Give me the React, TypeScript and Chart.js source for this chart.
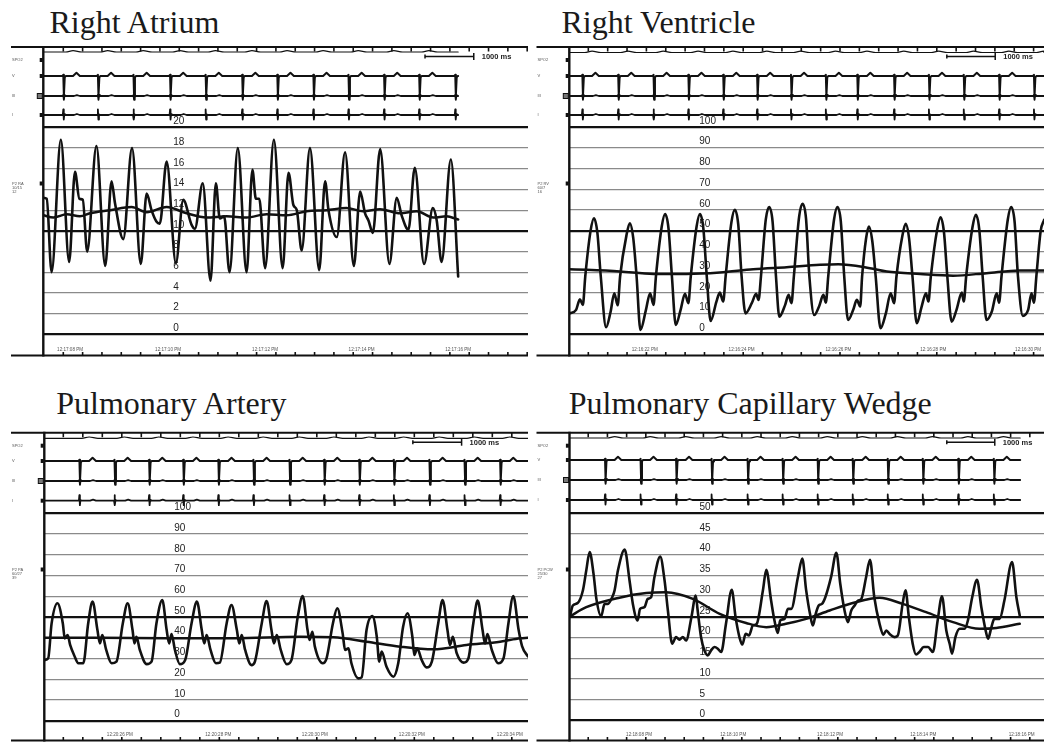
import React, { useEffect, useRef } from "react";
import { Chart, registerables } from "chart.js";

Chart.register(...registerables);
Chart.defaults.font.family = "'Liberation Sans', Arial, sans-serif";

// ================= DATA =================
// ---- Right Atrium (mmHg, time in s) ----
const raTimes = [
  0.0, 0.07, 0.17, 0.36, 0.53, 0.65, 0.74, 0.81, 0.9, 1.09,
  1.27, 1.4, 1.47, 1.64, 1.82, 2.0, 2.12, 2.22, 2.32, 2.39,
  2.53, 2.72, 2.87, 3.04, 3.11, 3.27, 3.43, 3.54, 3.62, 3.71,
  3.82, 3.99, 4.17, 4.29, 4.36, 4.43, 4.55, 4.73, 4.91, 5.03,
  5.13, 5.2, 5.3, 5.47, 5.66, 5.78, 5.85, 6.02, 6.19, 6.37,
  6.5, 6.6, 6.67, 6.76, 6.91, 7.1, 7.25, 7.35, 7.49, 7.62,
  7.81, 7.99, 8.07, 8.17, 8.36, 8.51,
];
const raValues = [
  13.2, 13.1, 6.0, 18.8, 7.0, 15.7, 13.1, 13.0, 8.0, 18.2,
  6.6, 14.8, 12.7, 9.2, 18.0, 6.8, 13.6, 12.0, 10.9, 10.7,
  16.7, 6.9, 13.0, 10.6, 10.2, 14.6, 5.2, 14.6, 11.2, 11.4,
  6.0, 18.0, 6.0, 15.9, 13.1, 13.1, 6.4, 18.8, 6.4, 15.6,
  12.5, 12.0, 8.1, 18.0, 6.2, 14.8, 12.0, 9.4, 17.6, 6.6,
  13.8, 11.7, 11.0, 9.8, 17.9, 6.8, 13.2, 11.5, 10.1, 16.1,
  6.8, 12.2, 11.0, 7.0, 16.9, 5.6,
];
const raMeanTimes = [0, 0.21, 0.48, 0.75, 0.96, 1.37, 1.81, 2.12, 2.53, 2.94, 3.35, 3.76, 4.17, 4.58, 4.99, 5.4, 5.81, 6.22, 6.56, 6.91, 7.32, 7.66, 8.0, 8.27, 8.51];
const raMeanValues = [11.5, 11.3, 11.6, 11.4, 11.7, 12.0, 12.3, 11.8, 12.3, 11.7, 11.3, 11.4, 11.3, 11.6, 11.5, 11.9, 12.0, 12.2, 11.9, 12.1, 11.7, 11.9, 11.3, 11.4, 11.1];
const raBeats = [0.41, 1.12, 1.85, 2.6, 3.33, 4.08, 4.8, 5.54, 6.26, 6.99, 7.71, 8.45];
const raTicks = [20, 18, 16, 14, 12, 10, 8, 6, 4, 2, 0];
const raTimeLabels = ["12:17:08 PM", "12:17:10 PM", "12:17:12 PM", "12:17:14 PM", "12:17:16 PM"];
const raLabelTimes = [0.55, 2.56, 4.55, 6.53, 8.51];
const raSideLabel = ["P2 RA", "10/15", "12"];

// ---- Right Ventricle ----
const rvTimes = [
  0.01, 0.14, 0.22, 0.28, 0.33, 0.44, 0.51, 0.58, 0.65,
  0.76, 0.85, 0.93, 1.0, 1.05, 1.18, 1.25, 1.32, 1.39,
  1.47, 1.58, 1.67, 1.74, 1.79, 1.91, 1.98, 2.05, 2.12,
  2.2, 2.3, 2.39, 2.46, 2.51, 2.63, 2.7, 2.77, 2.84,
  2.92, 3.04, 3.11, 3.18, 3.23, 3.35, 3.42, 3.49, 3.56,
  3.64, 3.77, 3.86, 3.91, 3.96, 4.06, 4.13, 4.2, 4.27,
  4.34, 4.46, 4.53, 4.59, 4.64, 4.75, 4.82, 4.89, 4.96,
  5.06, 5.16, 5.25, 5.3, 5.35, 5.47, 5.54, 5.61, 5.68,
  5.76, 5.87, 5.94, 6.01, 6.05, 6.13, 6.19, 6.26, 6.33,
  6.43, 6.54, 6.64, 6.71, 6.76, 6.88, 6.95, 7.02, 7.09,
  7.18, 7.28, 7.37, 7.42, 7.47, 7.6, 7.67, 7.74, 7.81,
  7.9, 8.0, 8.11, 8.15, 8.2, 8.33, 8.4, 8.47, 8.54,
  8.62, 8.73, 8.83, 8.88, 8.93, 9.06, 9.13, 9.2, 9.27,
  9.37, 9.48, 9.55, 9.6, 9.65, 9.74, 9.81,
];
const rvValues = [
  10.1, 11.8, 16.9, 14.2, 28, 50.0, 56.0, 49.0, 28,
  3.4, 10.5, 19.8, 14.0, 28, 47.6, 53.6, 46.6, 28,
  2.1, 11.4, 19.8, 14.2, 28, 52.0, 58.0, 51.0, 28,
  4.5, 11.8, 19.5, 15.0, 28, 52.0, 58.0, 51.0, 28,
  6.4, 15.8, 20.1, 15.8, 28, 54.1, 60.1, 53.1, 28,
  10.1, 15.0, 19.5, 16.6, 28, 55.4, 61.4, 54.4, 28,
  8.5, 14.2, 19.0, 15.0, 28, 57.0, 63.0, 56.0, 28,
  9.3, 13.4, 19.0, 15.3, 28, 55.4, 61.4, 54.4, 28,
  6.9, 12.1, 16.6, 13.4, 28, 46.0, 52.0, 45.0, 28,
  2.9, 10.1, 19.8, 15.0, 28, 47.3, 53.3, 46.3, 28,
  5.3, 13.4, 19.8, 15.8, 28, 50.5, 56.5, 49.5, 28,
  6.1, 11.8, 20.1, 15.8, 28, 51.6, 57.6, 50.6, 28,
  6.9, 11.0, 19.8, 15.3, 28, 55.4, 61.4, 54.4, 28,
  8.9, 11.8, 19.8, 15.3, 28, 50.0, 55.2,
];
const rvMeanTimes = [0, 0.36, 1.05, 1.74, 2.42, 3.11, 3.8, 4.49, 5.18, 5.56, 6.21, 6.56, 7.25, 7.93, 8.62, 9.31, 9.81];
const rvMeanValues = [31.4, 31.1, 30.3, 29.1, 29.1, 29.8, 31.4, 32.4, 33.5, 33.8, 31.9, 30.3, 29.1, 28.3, 29.5, 30.8, 30.8];
const rvBeats = [0.27, 1.01, 1.74, 2.46, 3.18, 3.88, 4.58, 5.3, 5.95, 6.71, 7.43, 8.15, 8.88, 9.6];
const rvTicks = [100, 90, 80, 70, 60, 50, 40, 30, 20, 10, 0];
const rvTimeLabels = ["12:16:22 PM", "12:16:24 PM", "12:16:26 PM", "12:16:28 PM", "12:16:30 PM"];
const rvLabelTimes = [1.56, 3.56, 5.56, 7.52, 9.48];
const rvSideLabel = ["P2 RV", "60/7", "16"];

// ---- Pulmonary Artery ----
const paTimes = [
  0.01, 0.08, 0.15, 0.27, 0.38, 0.42, 0.48, 0.53, 0.61, 0.7,
  0.8, 0.9, 0.99, 1.09, 1.14, 1.19, 1.27, 1.38,
  1.48, 1.61, 1.71, 1.81, 1.85, 1.89, 1.96, 2.1,
  2.2, 2.3, 2.42, 2.51, 2.56, 2.61, 2.68, 2.78,
  2.89, 3.02, 3.13, 3.23, 3.28, 3.33, 3.41, 3.52,
  3.6, 3.74, 3.84, 3.95, 4.0, 4.05, 4.12, 4.25,
  4.32, 4.46, 4.56, 4.66, 4.71, 4.77, 4.85, 4.97,
  5.07, 5.2, 5.3, 5.4, 5.44, 5.5, 5.55, 5.71,
  5.79, 5.92, 6.01, 6.12, 6.17, 6.24, 6.3, 6.44,
  6.51, 6.61, 6.73, 6.82, 6.87, 6.92, 7.02, 7.16,
  7.26, 7.36, 7.45, 7.55, 7.59, 7.65, 7.74, 7.84,
  7.95, 8.08, 8.17, 8.27, 8.32, 8.38, 8.46, 8.6,
  8.7, 8.8, 8.89, 8.99, 9.04, 9.09, 9.18, 9.31,
  9.42, 9.52, 9.62, 9.73, 9.8, 9.92,
];
const paValues = [
  29.3, 30.1, 46.9, 56.6, 46.9, 39.7, 41.3, 36.5, 31.7, 27.7,
  27.7, 46.9, 57.4, 43.7, 37.3, 41.3, 34.1, 27.7,
  28.5, 46.9, 56.6, 43.7, 37.3, 40.5, 34.1, 27.3,
  28.5, 46.9, 58.2, 43.7, 37.3, 41.8, 34.1, 27.3,
  29.3, 46.9, 57.4, 43.7, 37.3, 41.3, 34.1, 27.7,
  28.0, 46.9, 55.8, 43.7, 37.3, 41.3, 34.1, 26.8,
  28.5, 46.9, 57.7, 43.7, 37.3, 41.3, 34.1, 27.3,
  29.3, 50.2, 60.1, 43.7, 38.9, 42.9, 35.7, 27.7,
  30.1, 46.9, 54.2, 42.1, 34.1, 34.9, 27.7, 20.4,
  20.9, 43.7, 50.5, 40.5, 28.5, 33.3, 26.0, 21.2,
  27.7, 45.3, 51.8, 40.5, 31.7, 34.9, 29.3, 25.7,
  28.5, 46.9, 58.2, 43.7, 36.5, 40.5, 32.5, 28.0,
  30.1, 46.9, 57.9, 43.7, 37.3, 41.8, 34.1, 27.7,
  30.1, 46.9, 60.1, 43.7, 36.0, 31.0,
];
const paMeanTimes = [0, 1.14, 2.51, 3.88, 5.24, 5.93, 6.61, 7.3, 7.98, 8.66, 9.35, 9.76, 9.92];
const paMeanValues = [40.0, 40.0, 39.7, 39.7, 40.5, 40.2, 38.1, 35.7, 34.4, 36.5, 38.1, 39.7, 40.0];
const paBeats = [0.72, 1.44, 2.15, 2.85, 3.57, 4.29, 5.03, 5.74, 6.46, 7.17, 7.9, 8.62, 9.35];
const paTicks = [100, 90, 80, 70, 60, 50, 40, 30, 20, 10, 0];
const paTimeLabels = ["12:20:26 PM", "12:20:28 PM", "12:20:30 PM", "12:20:32 PM", "12:20:34 PM"];
const paLabelTimes = [1.55, 3.57, 5.55, 7.54, 9.55];
const paSideLabel = ["P2 PA", "60/27", "39"];

// ---- Pulmonary Capillary Wedge ----
const pcwTimes = [
  0.01, 0.07, 0.17, 0.28, 0.35, 0.42, 0.5, 0.56, 0.66,
  0.73, 0.8, 0.89, 0.94, 1.01, 1.15, 1.25, 1.32, 1.42,
  1.47, 1.56, 1.63, 1.7, 1.77, 1.89, 1.98, 2.05, 2.14,
  2.22, 2.29, 2.36, 2.43, 2.54, 2.63, 2.67, 2.74, 2.81, 2.88,
  2.95, 3.02, 3.09, 3.16, 3.26, 3.38, 3.46, 3.54, 3.6,
  3.67, 3.74, 3.82, 3.9, 4.03, 4.1, 4.2, 4.27, 4.34,
  4.39, 4.48, 4.55, 4.62, 4.76, 4.85, 4.93, 5.01, 5.07,
  5.13, 5.19, 5.26, 5.33, 5.45, 5.56, 5.64, 5.73, 5.8,
  5.87, 5.94, 6.01, 6.08, 6.18, 6.26, 6.35, 6.46, 6.54,
  6.6, 6.68, 6.77, 6.84, 6.94, 7.0, 7.07, 7.15, 7.22,
  7.29, 7.38, 7.47, 7.57, 7.67, 7.76, 7.85, 7.92, 7.97,
  8.04, 8.13, 8.23, 8.3, 8.39, 8.49, 8.58, 8.67, 8.72,
  8.79, 8.85, 8.96, 9.06, 9.22, 9.31, 9.38,
];
const pcwValues = [
  25.1, 27.7, 28.3, 31.4, 36.2, 40.6, 35.4, 29.3, 25.1,
  28.1, 28.1, 29.7, 31.4, 36.2, 41.2, 33.8, 28.1, 24.1,
  26.9, 27.3, 29.3, 29.7, 34.6, 39.5, 33.8, 26.5, 18.5,
  20.1, 19.5, 20.1, 19.3, 24.9, 30.1, 26.5, 20.1, 16.9, 15.7,
  16.9, 17.7, 17.3, 16.5, 23.3, 31.5, 24.9, 20.1, 18.3,
  20.9, 20.5, 22.9, 23.3, 31.4, 36.3, 28.9, 24.1, 21.1,
  24.1, 24.5, 26.9, 26.9, 34.6, 39.0, 31.4, 25.7, 22.9,
  25.7, 27.7, 28.1, 29.7, 34.6, 40.4, 33.0, 26.5, 23.7,
  26.5, 27.7, 28.9, 29.3, 34.6, 38.7, 29.7, 23.3, 20.7,
  21.7, 20.7, 20.1, 20.5, 28.1, 31.4, 24.9, 18.5, 15.9,
  16.5, 17.7, 17.7, 16.5, 24.1, 29.9, 21.7, 18.5, 16.1,
  20.1, 22.1, 22.1, 24.1, 29.7, 33.9, 27.3, 21.7, 19.7,
  22.5, 24.5, 24.5, 28.9, 38.2, 29.7, 25.3,
];
const pcwMeanTimes = [0.01, 0.35, 1.04, 1.6, 2.01, 2.57, 3.13, 3.68, 4.1, 4.51, 4.93, 5.42, 5.9, 6.46, 6.94, 7.43, 7.99, 8.54, 8.89, 9.38];
const pcwMeanValues = [25.1, 27.3, 29.6, 30.7, 30.9, 29.3, 25.7, 23.5, 22.5, 23.3, 24.5, 26.5, 28.3, 29.6, 28.1, 26.1, 23.7, 22.1, 22.3, 23.3];
const pcwBeats = [0.74, 1.48, 2.22, 2.96, 3.71, 4.44, 5.17, 5.9, 6.63, 7.36, 8.1, 8.84];
const pcwTicks = [50, 45, 40, 35, 30, 25, 20, 15, 10, 5, 0];
const pcwTimeLabels = ["12:18:08 PM", "12:18:10 PM", "12:18:12 PM", "12:18:14 PM", "12:18:16 PM"];
const pcwLabelTimes = [1.45, 3.41, 5.43, 7.37, 9.42];
const pcwSideLabel = ["P2 PCW", "25/30", "27"];

// ---- ECG / pleth beat shapes (time offset from beat in s, amplitude in 10px units) ----
const vTplT = [-0.02, 0.0, 0.012, 0.03, 0.05, 0.2, 0.27, 0.34];
const vTplV = [0, 0.12, -2.05, -0.15, 0, 0, 0.32, 0];
const iiTplT = [-0.01, 0.0, 0.012, 0.026, 0.04, 0.22, 0.28, 0.34];
const iiTplV = [0, 0.1, -0.38, 0.12, 0, 0, 0.08, 0];
const iTplT = [-0.01, 0.0, 0.01, 0.022, 0.035, 0.22, 0.28, 0.34];
const iTplV = [0, 0.55, -0.45, 0.08, 0, 0, 0.1, 0];
const plTplT = [0.05, 0.2, 0.38];
const plTplV = [0, 0.13, 0];
const rowNames = ["SPO2", "V", "III", "I"];

// ================= HELPERS =================
type XY = { x: number; y: number };
const zip = (ts: number[], vs: number[]): XY[] => ts.map((t, i) => ({ x: t, y: vs[i] }));
const placeBeats = (beats: number[], end: number, tt: number[], tv: number[]): XY[] => {
  const out: XY[] = [{ x: 0, y: 0 }];
  beats.forEach((b) =>
    tt.forEach((d, i) => {
      const x = b + d;
      if (x > 0 && x < end) out.push({ x, y: tv[i] });
    })
  );
  out.push({ x: end, y: 0 });
  return out;
};

interface PanelDef {
  key: string;
  title: string;
  titleLeft: number;
  titleTop: number;
  cLeft: number; cTop: number; cW: number; cH: number;
  axisX: number; rightX: number; stubX: number; topY: number; bottomY: number;
  pTopY: number; pZeroY: number;
  rowSp: number; rowPl: number; rowV: number; rowII: number; rowI: number; rowP: number;
  pxPerSec: number; tickStart: number; tickStep: number; barT: number;
  ticks: number[]; thick: number[];
  press: XY[]; mean: XY[];
  beats: number[]; ecgEnd: number;
  timeLabels: string[]; labelTimes: number[]; side: string[];
}

const panels: PanelDef[] = [
  {
    key: "ra", title: "Right Atrium", titleLeft: 49.5, titleTop: 6.2,
    cLeft: 0, cTop: 40, cW: 530, cH: 322,
    axisX: 43.3, rightX: 528, stubX: 11, topY: 47, bottomY: 355.5,
    pTopY: 127.4, pZeroY: 334.3,
    rowSp: 60, rowPl: 52, rowV: 76, rowII: 96, rowI: 115, rowP: 183.5,
    pxPerSec: 48.75, tickStart: 0.41, tickStep: 0.3965, barT: 7.83,
    ticks: raTicks, thick: [20, 10, 0],
    press: zip(raTimes, raValues), mean: zip(raMeanTimes, raMeanValues),
    beats: raBeats, ecgEnd: 8.51,
    timeLabels: raTimeLabels, labelTimes: raLabelTimes, side: raSideLabel,
  },
  {
    key: "rv", title: "Right Ventricle", titleLeft: 561.5, titleTop: 6.2,
    cLeft: 530, cTop: 40, cW: 514, cH: 322,
    axisX: 569.3, rightX: 1044, stubX: 536.5, topY: 47, bottomY: 355.5,
    pTopY: 127, pZeroY: 334.3,
    rowSp: 60, rowPl: 52.5, rowV: 76, rowII: 96, rowI: 115, rowP: 183.5,
    pxPerSec: 48.4, tickStart: 0.393, tickStep: 0.4, barT: 7.8,
    ticks: rvTicks, thick: [100, 50, 0],
    press: zip(rvTimes, rvValues), mean: zip(rvMeanTimes, rvMeanValues),
    beats: rvBeats, ecgEnd: 9.81,
    timeLabels: rvTimeLabels, labelTimes: rvLabelTimes, side: rvSideLabel,
  },
  {
    key: "pa", title: "Pulmonary Artery", titleLeft: 56.2, titleTop: 386.5,
    cLeft: 0, cTop: 424, cW: 530, cH: 318,
    axisX: 44.3, rightX: 528, stubX: 11, topY: 432.7, bottomY: 740.5,
    pTopY: 513.3, pZeroY: 720.7,
    rowSp: 445.7, rowPl: 438.3, rowV: 461, rowII: 481, rowI: 500.7, rowP: 569.5,
    pxPerSec: 48.75, tickStart: 0.39, tickStep: 0.4, barT: 7.56,
    ticks: paTicks, thick: [100, 50, 0],
    press: zip(paTimes, paValues), mean: zip(paMeanTimes, paMeanValues),
    beats: paBeats, ecgEnd: 9.92,
    timeLabels: paTimeLabels, labelTimes: paLabelTimes, side: paSideLabel,
  },
  {
    key: "pcw", title: "Pulmonary Capillary Wedge", titleLeft: 568.8, titleTop: 386.5,
    cLeft: 530, cTop: 424, cW: 514, cH: 318,
    axisX: 569.5, rightX: 1044, stubX: 536.5, topY: 432.7, bottomY: 740.5,
    pTopY: 513, pZeroY: 720.5,
    rowSp: 445.7, rowPl: 438, rowV: 460, rowII: 480, rowI: 500, rowP: 569.5,
    pxPerSec: 48, tickStart: 0.39, tickStep: 0.4, barT: 7.86,
    ticks: pcwTicks, thick: [50, 25, 0],
    press: zip(pcwTimes, pcwValues), mean: zip(pcwMeanTimes, pcwMeanValues),
    beats: pcwBeats, ecgEnd: 9.39,
    timeLabels: pcwTimeLabels, labelTimes: pcwLabelTimes, side: pcwSideLabel,
  },
];

// ================= FRAME PLUGIN =================
const makeFrame = (p: PanelDef) => ({
  id: "frame_" + p.key,
  afterDatasetsDraw(chart: any) {
    const ctx: CanvasRenderingContext2D = chart.ctx;
    const xs = chart.scales.x;
    const X = (x: number) => x - p.cLeft;
    const Y = (y: number) => y - p.cTop;
    const seg = (x1: number, y1: number, x2: number, y2: number) => {
      ctx.beginPath();
      ctx.moveTo(x1, y1);
      ctx.lineTo(x2, y2);
      ctx.stroke();
    };
    ctx.save();
    ctx.strokeStyle = "#111";
    ctx.lineWidth = 2;
    seg(X(p.stubX), Y(p.topY), X(p.rightX), Y(p.topY));
    seg(X(p.stubX), Y(p.bottomY), X(p.rightX), Y(p.bottomY));
    ctx.lineWidth = 2.4;
    seg(X(p.axisX), Y(p.topY) - 1, X(p.axisX), Y(p.bottomY) + 1);
    // time ticks
    ctx.lineWidth = 1.6;
    for (let t = p.tickStart; t < xs.max; t += p.tickStep) {
      const px = xs.getPixelForValue(t);
      seg(px, Y(p.topY), px, Y(p.topY) + 4.5);
      seg(px, Y(p.bottomY), px, Y(p.bottomY) - 3.5);
    }
    // time labels
    ctx.fillStyle = "#555";
    ctx.font = "4.6px 'Liberation Sans', Arial, sans-serif";
    ctx.textAlign = "center";
    ctx.textBaseline = "middle";
    p.timeLabels.forEach((s, i) => ctx.fillText(s, xs.getPixelForValue(p.labelTimes[i]), Y(p.bottomY) - 6));
    // row labels
    ctx.textAlign = "left";
    ctx.font = "4px 'Liberation Sans', Arial, sans-serif";
    const lx = X(p.stubX) + 1;
    [p.rowSp, p.rowV, p.rowII, p.rowI].forEach((r, i) => ctx.fillText(rowNames[i], lx, Y(r)));
    p.side.forEach((s, i) => ctx.fillText(s, lx, Y(p.rowP) + i * 4.2));
    // channel markers
    ctx.fillStyle = "#111";
    [p.rowSp, p.rowV, p.rowI, p.rowP].forEach((r) => ctx.fillRect(X(p.axisX) - 3.6, Y(r) - 2, 3, 4));
    ctx.fillStyle = "#777";
    ctx.fillRect(X(p.axisX) - 6, Y(p.rowII) - 2.5, 5, 5);
    ctx.lineWidth = 1;
    ctx.strokeRect(X(p.axisX) - 6, Y(p.rowII) - 2.5, 5, 5);
    // 1000 ms scale bar
    const bx1 = xs.getPixelForValue(p.barT);
    const bx2 = xs.getPixelForValue(p.barT + 1);
    const by = Y(p.topY) + 9.5;
    ctx.lineWidth = 1.5;
    seg(bx1, by, bx2, by);
    seg(bx2, by - 3.5, bx2, by + 3.5);
    seg(bx1, by - 2, bx1, by + 2);
    ctx.fillStyle = "#222";
    ctx.font = "bold 7.5px 'Liberation Sans', Arial, sans-serif";
    ctx.fillText("1000 ms", bx2 + 8, by + 0.5);
    ctx.restore();
  },
});

// ================= PANEL =================
function Panel({ p }: { p: PanelDef }) {
  const ref = useRef<HTMLCanvasElement>(null);
  useEffect(() => {
    if (!ref.current) return;
    const pMax = p.ticks[0];
    const vpp = pMax / (p.pZeroY - p.pTopY);
    const rowAxis = (row: number) => ({
      type: "linear",
      display: false,
      min: -(p.bottomY - row) / 10,
      max: (row - p.topY) / 10,
    });
    const ds = (data: XY[], axis: string, width: number, smooth: boolean) => ({
      data,
      yAxisID: axis,
      borderColor: "#111",
      borderWidth: width,
      pointRadius: 0,
      fill: false,
      tension: smooth ? 0.4 : 0,
      cubicInterpolationMode: smooth ? "monotone" : "default",
      borderJoinStyle: "round",
      borderCapStyle: "round",
    });
    const chart = new Chart(ref.current, {
      type: "line",
      data: {
        datasets: [
          ds(placeBeats(p.beats, p.ecgEnd, plTplT, plTplV), "yPl", 1.2, true),
          ds(placeBeats(p.beats, p.ecgEnd, vTplT, vTplV), "yV", 2, false),
          ds(placeBeats(p.beats, p.ecgEnd, iiTplT, iiTplV), "yII", 1.8, false),
          ds(placeBeats(p.beats, p.ecgEnd, iTplT, iTplV), "yI", 1.8, false),
          ds(p.mean, "y", 2.5, true),
          ds(p.press, "y", 2.6, true),
        ],
      } as any,
      options: {
        animation: false,
        responsive: false,
        devicePixelRatio: 1,
        events: [],
        layout: {
          autoPadding: false,
          padding: {
            left: p.axisX - p.cLeft,
            top: p.topY - p.cTop,
            right: p.cLeft + p.cW - p.rightX,
            bottom: p.cTop + p.cH - p.bottomY,
          },
        },
        plugins: { legend: { display: false }, tooltip: { enabled: false } },
        scales: {
          x: { type: "linear", display: false, min: 0, max: (p.rightX - p.axisX) / p.pxPerSec },
          y: {
            type: "linear",
            position: "left",
            min: -(p.bottomY - p.pZeroY) * vpp,
            max: pMax + (p.pTopY - p.topY) * vpp,
            afterBuildTicks: (s: any) => {
              s.ticks = p.ticks.map((v) => ({ value: v }));
            },
            afterFit: (s: any) => {
              s.width = 0;
              s.paddingTop = 0;
              s.paddingBottom = 0;
              s.paddingLeft = 0;
              s.paddingRight = 0;
            },
            border: { display: false },
            grid: {
              drawTicks: false,
              tickLength: 0,
              color: (c: any) => (c.tick && p.thick.includes(c.tick.value) ? "#111" : "#8a8a8a"),
              lineWidth: (c: any) => (c.tick && p.thick.includes(c.tick.value) ? 2.2 : 1.2),
            },
            ticks: {
              mirror: true,
              padding: 130,
              labelOffset: -6,
              autoSkip: false,
              color: "#222",
              font: { size: 10, family: "'Liberation Sans', Arial, sans-serif" },
              callback: (v: any) => String(v),
            },
          },
          yPl: rowAxis(p.rowPl),
          yV: rowAxis(p.rowV),
          yII: rowAxis(p.rowII),
          yI: rowAxis(p.rowI),
        } as any,
      },
      plugins: [makeFrame(p)],
    });
    return () => chart.destroy();
  }, [p]);
  return (
    <canvas
      ref={ref}
      width={p.cW}
      height={p.cH}
      style={{ position: "absolute", left: p.cLeft, top: p.cTop, width: p.cW, height: p.cH }}
    />
  );
}

export default function App() {
  return (
    <div style={{ position: "absolute", left: 0, top: 0, width: 1044, height: 742, background: "#fff", overflow: "hidden" }}>
      {panels.map((p) => (
        <div
          key={"t" + p.key}
          style={{
            position: "absolute",
            left: p.titleLeft,
            top: p.titleTop,
            fontFamily: "'Liberation Serif', 'Times New Roman', serif",
            fontSize: 32,
            lineHeight: "32px",
            color: "#1a1a1a",
            whiteSpace: "nowrap",
          }}
        >
          {p.title}
        </div>
      ))}
      {panels.map((p) => (
        <Panel key={p.key} p={p} />
      ))}
    </div>
  );
}
